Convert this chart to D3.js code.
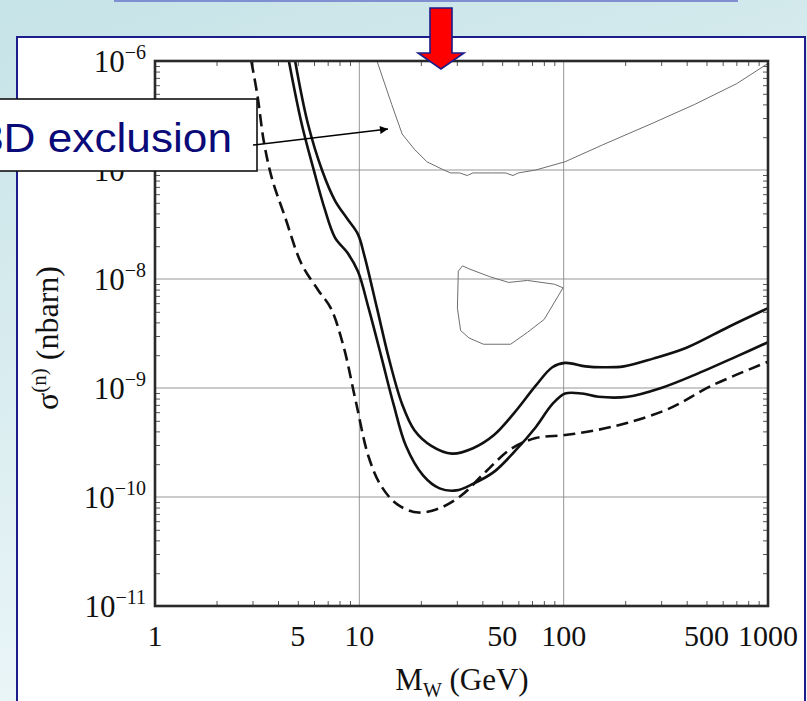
<!DOCTYPE html>
<html><head><meta charset="utf-8">
<script src="https://cdn.jsdelivr.net/npm/d3@7"></script>
<style>html,body{margin:0;padding:0;overflow:hidden;background:#fff}</style>
</head><body>
<script>
// ---- data ----
const xTickValues = [1, 5, 10, 50, 100, 500, 1000];
const yTickExponents = [-6, -7, -8, -9, -10, -11];
const gridX = [10, 100];
const gridY = [1e-7, 1e-8, 1e-9, 1e-10];

// [M_W (GeV), sigma (nbarn)]
const upperSolid = [[4.85,1e-6],[5.59,2.7e-7],[6.59,9.8e-8],[7.6,5.25e-8],[8.75,3.55e-8],[9.85,2.57e-8],[10.6,1.62e-8],[12.2,5.4e-9],[14.0,1.82e-9],[16.2,7.1e-10],[18.6,4.1e-10],[22.5,2.95e-10],[28.4,2.5e-10],[36,2.8e-10],[45.6,3.7e-10],[57.7,6.0e-10],[73,1.05e-9],[88,1.55e-9],[101.6,1.7e-9],[128,1.58e-9],[155,1.55e-9],[197,1.58e-9],[274,1.86e-9],[399,2.34e-9],[640,3.63e-9],[1000,5.4e-9]];
const lowerSolid = [[4.52,1e-6],[5.21,2.7e-7],[6.0,9.8e-8],[6.75,4.47e-8],[7.6,2.4e-8],[8.75,1.74e-8],[9.85,1.17e-8],[11.1,5.4e-9],[12.8,1.95e-9],[14.7,7.1e-10],[16.9,2.95e-10],[20.5,1.58e-10],[24.7,1.2e-10],[29.8,1.15e-10],[36,1.32e-10],[45.6,1.7e-10],[57.7,2.63e-10],[73,4.37e-10],[88,7.1e-10],[101.6,8.9e-10],[123,8.9e-10],[148,8.3e-10],[206,8.3e-10],[300,1.0e-9],[438,1.32e-9],[703,1.95e-9],[1000,2.63e-9]];
const dashedCurve = [[2.96,1e-6],[3.18,4.68e-7],[3.41,1.82e-7],[3.74,8.3e-8],[4.31,3.8e-8],[5.21,1.38e-8],[6.29,7.9e-9],[7.25,5.4e-9],[8.35,2.45e-9],[9.6,7.6e-10],[11.1,2.34e-10],[12.8,1.26e-10],[15.4,8.5e-11],[19.5,7.2e-11],[24.7,7.9e-11],[31.3,1.02e-10],[41.5,1.7e-10],[55,2.75e-10],[73,3.47e-10],[101.6,3.7e-10],[141,4.07e-10],[206,4.8e-10],[330,6.5e-10],[530,1.05e-9],[1000,1.74e-9]];
const exclusionUpper = [[12.2,1e-6],[14.4,4.0e-7],[16.2,2.14e-7],[18.6,1.55e-7],[21.4,1.19e-7],[25.9,1.0e-7],[28,9.4e-8],[31,9.4e-8],[33.7,8.9e-8],[36,9.4e-8],[45,9.4e-8],[52,9.4e-8],[56.5,8.9e-8],[60,9.4e-8],[73,1.0e-7],[101.6,1.19e-7],[155,1.7e-7],[274,2.7e-7],[438,4.0e-7],[703,6.2e-7],[1000,9.5e-7]];
const exclusionIsland = [[32.0,1.32e-8],[30.5,1.18e-8],[30.2,5.4e-9],[31.3,3.37e-9],[34.4,2.88e-9],[40.5,2.52e-9],[55.0,2.52e-9],[66.5,3.24e-9],[80.3,4.26e-9],[99.3,8.3e-9],[90.3,8.95e-9],[66.5,9.7e-9],[53.8,9.3e-9],[43.5,1.05e-8],[34.4,1.24e-8]];
const calloutText = "3D exclusion";
const xTitle = ["M", "W", " (GeV)"];
const yTitle = ["σ", "(n)", " (nbarn)"];

// ---- layout ----
const W = 807, H = 701;
const svg = d3.select("body").append("svg").attr("width", W).attr("height", H)
  .style("display","block");
const defs = svg.append("defs");
const bg = defs.append("linearGradient").attr("id","bg").attr("x1","0").attr("y1","0").attr("x2","0.35").attr("y2","1");
bg.append("stop").attr("offset","0").attr("stop-color","#c6e3e7");
bg.append("stop").attr("offset","1").attr("stop-color","#eef7f9");
svg.append("rect").attr("width",W).attr("height",H).attr("fill","url(#bg)");

// top title box edge
svg.append("rect").attr("x",115).attr("y",-30).attr("width",622).attr("height",31)
  .attr("fill","none").attr("stroke","#7f8fd2").attr("stroke-width",2);

// white panel
svg.append("rect").attr("x",17).attr("y",37).attr("width",788).attr("height",700)
  .attr("fill","#fff").attr("stroke","#1c1c8a").attr("stroke-width",2);

const x = d3.scaleLog().domain([1,1000]).range([155,768]);
const y = d3.scaleLog().domain([1e-11,1e-6]).range([606,61]);

defs.append("clipPath").attr("id","plotclip").append("rect")
  .attr("x",155).attr("y",61).attr("width",613).attr("height",545);

// grid
const g = svg.append("g");
g.selectAll("line.gx").data(gridX).join("line").attr("class","gx")
  .attr("x1",d=>x(d)).attr("x2",d=>x(d)).attr("y1",y(1e-11)).attr("y2",y(1e-6))
  .attr("stroke","#8a8a8a").attr("stroke-width",0.9);
g.selectAll("line.gy").data(gridY).join("line").attr("class","gy")
  .attr("y1",d=>y(d)).attr("y2",d=>y(d)).attr("x1",x(1)).attr("x2",x(1000))
  .attr("stroke","#8a8a8a").attr("stroke-width",0.9);

// minor/major tick marks via axes
const xMinor = [], yMinor = [];
for (let e=0;e<3;e++) for (let k=2;k<=9;k++) xMinor.push(k*Math.pow(10,e));
for (let e=-11;e<-6;e++) for (let k=2;k<=9;k++) yMinor.push(k*Math.pow(10,e));
function styleAxis(sel){ sel.select(".domain").remove(); sel.selectAll("text").remove();
  sel.selectAll("line").attr("stroke","#555").attr("stroke-width",1); }
svg.append("g").attr("transform",`translate(0,${y(1e-11)})`)
  .call(d3.axisBottom(x).tickValues(xMinor).tickSize(-5)).call(styleAxis);
svg.append("g").attr("transform",`translate(0,${y(1e-6)})`)
  .call(d3.axisTop(x).tickValues(xMinor).tickSize(-5)).call(styleAxis);
svg.append("g").attr("transform",`translate(${x(1)},0)`)
  .call(d3.axisLeft(y).tickValues(yMinor).tickSize(-5)).call(styleAxis);
svg.append("g").attr("transform",`translate(${x(1000)},0)`)
  .call(d3.axisRight(y).tickValues(yMinor).tickSize(-5)).call(styleAxis);

// curves
const plot = svg.append("g").attr("clip-path","url(#plotclip)");
const smooth = d3.line().x(d=>x(d[0])).y(d=>y(d[1])).curve(d3.curveCatmullRom.alpha(0.5));
const lin = d3.line().x(d=>x(d[0])).y(d=>y(d[1]));
const closed = d3.line().x(d=>x(d[0])).y(d=>y(d[1])).curve(d3.curveLinearClosed);

plot.append("path").datum(exclusionUpper).attr("d",lin).attr("fill","none")
  .attr("stroke","#6e6e6e").attr("stroke-width",1);
plot.append("path").datum(exclusionIsland).attr("d",closed).attr("fill","none")
  .attr("stroke","#6e6e6e").attr("stroke-width",1);
plot.append("path").datum(dashedCurve).attr("d",smooth).attr("fill","none")
  .attr("stroke","#111").attr("stroke-width",2.6).attr("stroke-dasharray","12,6");
plot.append("path").datum(lowerSolid).attr("d",smooth).attr("fill","none")
  .attr("stroke","#111").attr("stroke-width",2.6);
plot.append("path").datum(upperSolid).attr("d",smooth).attr("fill","none")
  .attr("stroke","#111").attr("stroke-width",2.6);

// frame
svg.append("rect").attr("x",x(1)).attr("y",y(1e-6)).attr("width",x(1000)-x(1))
  .attr("height",y(1e-11)-y(1e-6)).attr("fill","none").attr("stroke","#2a2a2a").attr("stroke-width",2.6);

// tick labels
const serif = "'Liberation Serif','DejaVu Serif',serif";
svg.append("g").selectAll("text").data(xTickValues).join("text")
  .attr("x",d=>x(d)).attr("y",646).attr("text-anchor","middle")
  .attr("font-family",serif).attr("font-size",30).attr("fill","#111").text(d=>d);

const yl = svg.append("g").selectAll("text").data(yTickExponents).join("text")
  .attr("x",146).attr("y",d=>y(Math.pow(10,d))+11).attr("text-anchor","end")
  .attr("font-family",serif).attr("font-size",31).attr("fill","#111");
yl.append("tspan").text("10");
yl.append("tspan").attr("dy",-13).attr("font-size",20).text(d=>"\u2212"+(-d));

// axis titles
const xt = svg.append("text").attr("x",462).attr("y",690).attr("text-anchor","middle")
  .attr("font-family",serif).attr("font-size",31).attr("fill","#111");
xt.append("tspan").text(xTitle[0]);
xt.append("tspan").attr("dy",7).attr("font-size",20).text(xTitle[1]);
xt.append("tspan").attr("dy",-7).text(xTitle[2]);

const yt = svg.append("text").attr("transform","translate(58,338) rotate(-90)")
  .attr("text-anchor","middle").attr("font-family",serif).attr("font-size",32).attr("fill","#111");
yt.append("tspan").text(yTitle[0]);
yt.append("tspan").attr("dy",-12).attr("font-size",21).text(yTitle[1]);
yt.append("tspan").attr("dy",12).text(yTitle[2]);

// red arrow
svg.append("path")
  .attr("d","M430,8 L452,8 L452,53 L464,53 L441,69 L418,53 L430,53 Z")
  .attr("fill","#ff0000").attr("stroke","#1c1c8a").attr("stroke-width",1.6).attr("stroke-linejoin","miter");

// callout
svg.append("rect").attr("x",-3).attr("y",99).attr("width",260).attr("height",72)
  .attr("fill","#fff").attr("stroke","#111").attr("stroke-width",1.6);
svg.append("text").attr("x",-21).attr("y",152).attr("font-family","'Liberation Sans',Arial,sans-serif")
  .attr("font-size",41).attr("fill","#0a0a78").attr("textLength",253).attr("lengthAdjust","spacingAndGlyphs")
  .text(calloutText);
defs.append("marker").attr("id","ah").attr("viewBox","0 0 10 10").attr("refX",10).attr("refY",5)
  .attr("markerWidth",10).attr("markerHeight",8).attr("markerUnits","userSpaceOnUse").attr("orient","auto")
  .append("path").attr("d","M0,0 L10,5 L0,10 Z").attr("fill","#000");
svg.append("line").attr("x1",253).attr("y1",145).attr("x2",388).attr("y2",129)
  .attr("stroke","#000").attr("stroke-width",1.5).attr("marker-end","url(#ah)");
</script>
</body></html>
